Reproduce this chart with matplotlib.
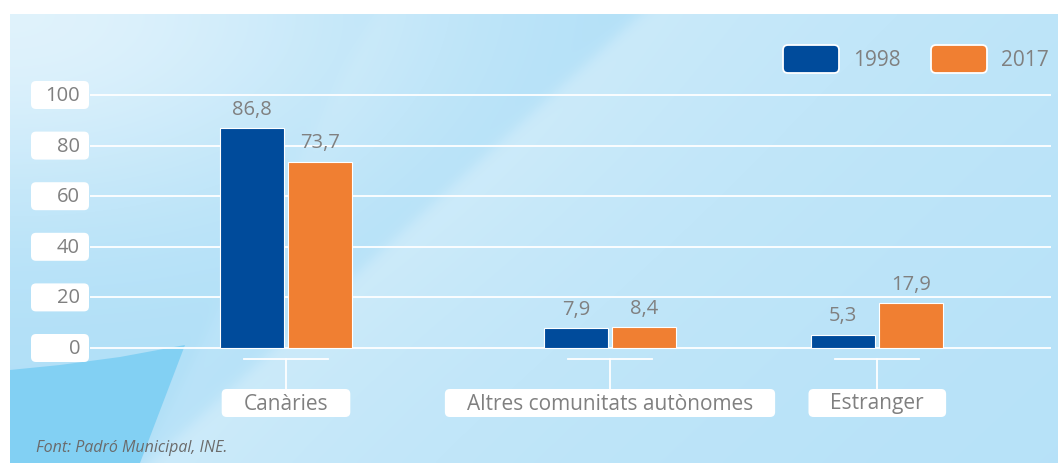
import numpy as np
import matplotlib
matplotlib.use("Agg")
import matplotlib.pyplot as plt
from matplotlib.patches import FancyBboxPatch, Polygon

plt.rcParams['font.family'] = ['Open Sans', 'DejaVu Sans']

# data
categories = ["Canàries", "Altres comunitats autònomes", "Estranger"]
years = ["1998", "2017"]
values_1998 = [86.8, 7.9, 5.3]
values_2017 = [73.7, 8.4, 17.9]
yticks = [0, 20, 40, 60, 80, 100]

# layout
group_pos = [0.0, 1.0, 1.825]
bar_w = 0.198
offset = 0.105
colors = ["#004b9b", "#f07f32"]
grey = "#808080"

W, H = 1058, 463
PX_ZERO, PX_PER_UNIT = 348, 2.53
AX_LEFT, AX_RIGHT = 90, 1051
YMIN, YMAX = -10, 110

fig = plt.figure(figsize=(W / 100, H / 100), dpi=100)

# background
bg = fig.add_axes([0, 0, 1, 1])
bg.set_xlim(0, W)
bg.set_ylim(H, 0)
bg.axis('off')

xx, yy = np.meshgrid(np.linspace(10, W, 420), np.linspace(14, H, 200))
base = np.array([0.69, 0.875, 0.97])
img = np.ones(xx.shape + (3,)) * base
# light top-left corner
corner = np.exp(-(((xx - 10) / 380) ** 2 + ((yy - 14) / 200) ** 2)) * 0.6
img = img * (1 - corner[..., None]) + corner[..., None]
# soft light diagonal band
d = ((xx - 640) * 449 + (yy - 14) * 490) / np.hypot(449, 490)
edge = 1 / (1 + np.exp(-d / 4))
band = edge * np.exp(-np.clip(d, 0, None) / 500) * 0.3
img = img * (1 - band[..., None]) + band[..., None]
# second faint streak
d2 = ((xx - 330) * 363 + (yy - 100) * 190) / np.hypot(363, 190)
band2 = (1 / (1 + np.exp(-d2 / 4))) * np.exp(-np.clip(d2, 0, None) / 120) * 0.12
img = img * (1 - band2[..., None]) + band2[..., None]
bg.imshow(img, extent=(10, W, H, 14), aspect='auto', zorder=0, interpolation='bilinear')
bg.add_patch(Polygon([(10, 370), (60, 365), (120, 357), (185, 345), (140, H), (10, H)],
                     closed=True, fc="#82d0f3", ec='none', zorder=1))

# main axes
def frac_y(px):
    return 1 - px / H

px_top = PX_ZERO - YMAX * PX_PER_UNIT
px_bot = PX_ZERO - YMIN * PX_PER_UNIT
ax = fig.add_axes([AX_LEFT / W, frac_y(px_bot), (AX_RIGHT - AX_LEFT) / W, (px_bot - px_top) / H])
ax.patch.set_alpha(0)
x0 = group_pos[0] - (286 - AX_LEFT) / 324
ax.set_xlim(x0, x0 + (AX_RIGHT - AX_LEFT) / 324)
ax.set_ylim(YMIN, YMAX)
for s in ax.spines.values():
    s.set_visible(False)
ax.set_xticks([])
ax.set_yticks([])

for v in yticks:
    ax.axhline(v, color='white', lw=1.3, zorder=1)

pos = np.array(group_pos)
for i, (vals, col) in enumerate(zip([values_1998, values_2017], colors)):
    xs = pos + (-offset if i == 0 else offset)
    bars = ax.bar(xs, vals, width=bar_w, color=col, edgecolor='white', linewidth=0.8, zorder=3)
    for b, v in zip(bars, vals):
        ax.annotate(f"{v:.1f}".replace('.', ','), (b.get_x() + b.get_width() / 2, v),
                    xytext=(0, 9.5), textcoords='offset points', ha='center', va='baseline',
                    fontsize=14.5, color=grey, zorder=4)


def to_px(x, y):
    dx, dy = ax.transData.transform((x, y))
    return dx, H - dy


# y tick boxes
for v in yticks:
    _, py = to_px(0, v)
    bg.add_patch(FancyBboxPatch((31, py - 14), 58, 28, boxstyle="round,pad=0,rounding_size=5",
                                fc='white', ec='none', zorder=2))
    bg.text(80, py + 1, str(v), ha='right', va='center', fontsize=14.5, color=grey, zorder=3)

# category ticks and label boxes
fig.canvas.draw()
renderer = fig.canvas.get_renderer()
for gx, name in zip(group_pos, categories):
    cx, _ = to_px(gx, 0)
    bg.plot([cx - 42, cx + 42], [359, 359], color='white', lw=1.3, zorder=2)
    bg.plot([cx, cx], [359, 389], color='white', lw=1.3, zorder=2)
    txt = bg.text(cx, 404, name, ha='center', va='center', fontsize=15, color=grey, zorder=3)
    ext = txt.get_window_extent(renderer)
    bw = ext.width + 44
    bg.add_patch(FancyBboxPatch((cx - bw / 2, 389), bw, 28, boxstyle="round,pad=0,rounding_size=5",
                                fc='white', ec='none', zorder=2))

# legend
for lx, tx, col, lab in zip([783, 931], [853, 1001], colors, years):
    bg.add_patch(FancyBboxPatch((lx, 45), 56, 28, boxstyle="round,pad=0,rounding_size=5",
                                fc=col, ec='white', lw=1.3, zorder=3))
    bg.text(tx, 61, lab, ha='left', va='center', fontsize=15, color=grey, zorder=3)

bg.text(36, 452, "Font: Padró Municipal, INE.", ha='left', va='baseline', fontsize=11.5,
        style='italic', color="#6b6b6b", zorder=3)

fig.savefig("out.png", dpi=100)
